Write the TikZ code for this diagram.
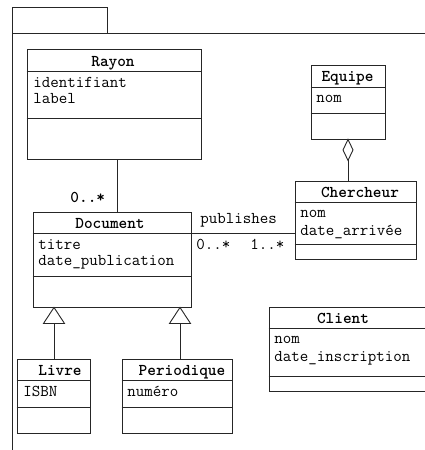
\documentclass[tikz,border=0pt]{standalone}
\usepackage{fontspec}
\begin{document}
\begin{tikzpicture}[x=1pt,y=-1pt,
  line width=0.9pt, draw=black!85,
  classbox/.style={draw=black!85, line width=0.9pt, rectangle, inner sep=0pt, fill=white},
  ttl/.style={font=\ttfamily\bfseries\fontsize{16.5}{17}\selectfont, anchor=base, inner sep=0pt},
  attr/.style={font=\ttfamily\fontsize{16.5}{17}\selectfont, anchor=base west, inner sep=0pt, align=left},
  lbl/.style={font=\ttfamily\fontsize{16.5}{17}\selectfont, anchor=base west, inner sep=0pt},
  tri/.style={draw=black!85, fill=white, line width=0.9pt}]
\useasboundingbox (0,0) rectangle (425,450);
\clip (0,0) rectangle (425,450);
% package
\node[classbox, minimum width=95pt, minimum height=26pt] (tab) at (59.5,20) {};
\coordinate (pkgtl) at (12,33);
\coordinate (pkgtr) at (425,33);
\coordinate (pkgbl) at (12,450);
\draw (pkgtr) -- (pkgtl) -- (pkgbl);
% classes
\node[classbox, minimum width=174pt, minimum height=110pt] (rayon) at (114,104) {};
\node[classbox, minimum width=74pt, minimum height=74pt] (equipe) at (348,102) {};
\node[classbox, minimum width=121pt, minimum height=78pt] (cherch) at (355.5,220) {};
\node[classbox, minimum width=158pt, minimum height=95pt] (doc) at (112,259.5) {};
\node[classbox, minimum width=73pt, minimum height=74pt] (livre) at (53.5,396) {};
\node[classbox, minimum width=110pt, minimum height=74pt] (perio) at (177,396) {};
\node[classbox, minimum width=166pt, minimum height=84pt] (client) at (352,349) {};
% separators
\draw (rayon.west |- 0,71) -- (rayon.east |- 0,71);
\draw (rayon.west |- 0,118) -- (rayon.east |- 0,118);
\draw (equipe.west |- 0,87) -- (equipe.east |- 0,87);
\draw (equipe.west |- 0,113) -- (equipe.east |- 0,113);
\draw (cherch.west |- 0,202) -- (cherch.east |- 0,202);
\draw (cherch.west |- 0,244) -- (cherch.east |- 0,244);
\draw (doc.west |- 0,233) -- (doc.east |- 0,233);
\draw (doc.west |- 0,276) -- (doc.east |- 0,276);
\draw (livre.west |- 0,380) -- (livre.east |- 0,380);
\draw (livre.west |- 0,407) -- (livre.east |- 0,407);
\draw (perio.west |- 0,380) -- (perio.east |- 0,380);
\draw (perio.west |- 0,407) -- (perio.east |- 0,407);
\draw (client.west |- 0,328) -- (client.east |- 0,328);
\draw (client.west |- 0,376) -- (client.east |- 0,376);
% titles
\node[ttl] (t-rayon) at (113,66) {Rayon};
\node[ttl] (t-equipe) at (347.5,81) {Equipe};
\node[ttl] (t-cherch) at (360,197) {Chercheur};
\node[ttl] (t-doc) at (110,228) {Document};
\node[ttl] (t-livre) at (60,375) {Livre};
\node[ttl] (t-perio) at (182,375) {Periodique};
\node[ttl] (t-client) at (343,323) {Client};
% attributes
\node[attr] (a-rayon1) at (33,87) {identifiant};
\node[attr] (a-rayon2) at (33,103) {label};
\node[attr] (a-equipe) at (316,102) {nom};
\node[attr] (a-cherch1) at (300,217) {nom};
\node[attr] (a-cherch2) at (300,235) {date\_arrivée};
\node[attr] (a-doc1) at (38,249) {titre};
\node[attr] (a-doc2) at (38,265) {date\_publication};
\node[attr] (a-livre) at (23,396) {ISBN};
\node[attr] (a-perio) at (127,396) {numéro};
\node[attr] (a-client1) at (274,343) {nom};
\node[attr] (a-client2) at (274,361) {date\_inscription};
% Rayon - Document
\draw ([xshift=3pt]rayon.south) -- ([xshift=3pt]rayon.south |- doc.north);
\node[lbl, font=\ttfamily\bfseries\fontsize{16.5}{17}\selectfont] (m-rd) at (70,202) {0..*};
% Document - Chercheur
\draw (doc.east |- 0,233) -- (cherch.west |- 0,233);
\node[lbl] (l-pub) at (200,223) {publishes};
\node[lbl] (m-dc1) at (196,249) {0..*};
\node[lbl] (m-dc2) at (250,249) {1..*};
% Equipe - Chercheur aggregation
\coordinate (dtop) at (equipe.south);
\draw[fill=white] (dtop) -- ++(5,10.5) -- ++(-5,10.5) coordinate (dbot) -- ++(-5,-10.5) -- cycle;
\draw (dbot) -- (dbot |- cherch.north);
% generalizations
\coordinate (g1) at (doc.south -| 54,0);
\coordinate (g2) at (doc.south -| 180,0);
\draw[tri] (g1) -- ++(10.5,16) -- ++(-21,0) -- cycle;
\draw[tri] (g2) -- ++(10.5,16) -- ++(-21,0) -- cycle;
\draw ([yshift=-16pt]g1) -- (livre.north -| g1);
\draw ([yshift=-16pt]g2) -- (perio.north -| g2);
\end{tikzpicture}
\end{document}
